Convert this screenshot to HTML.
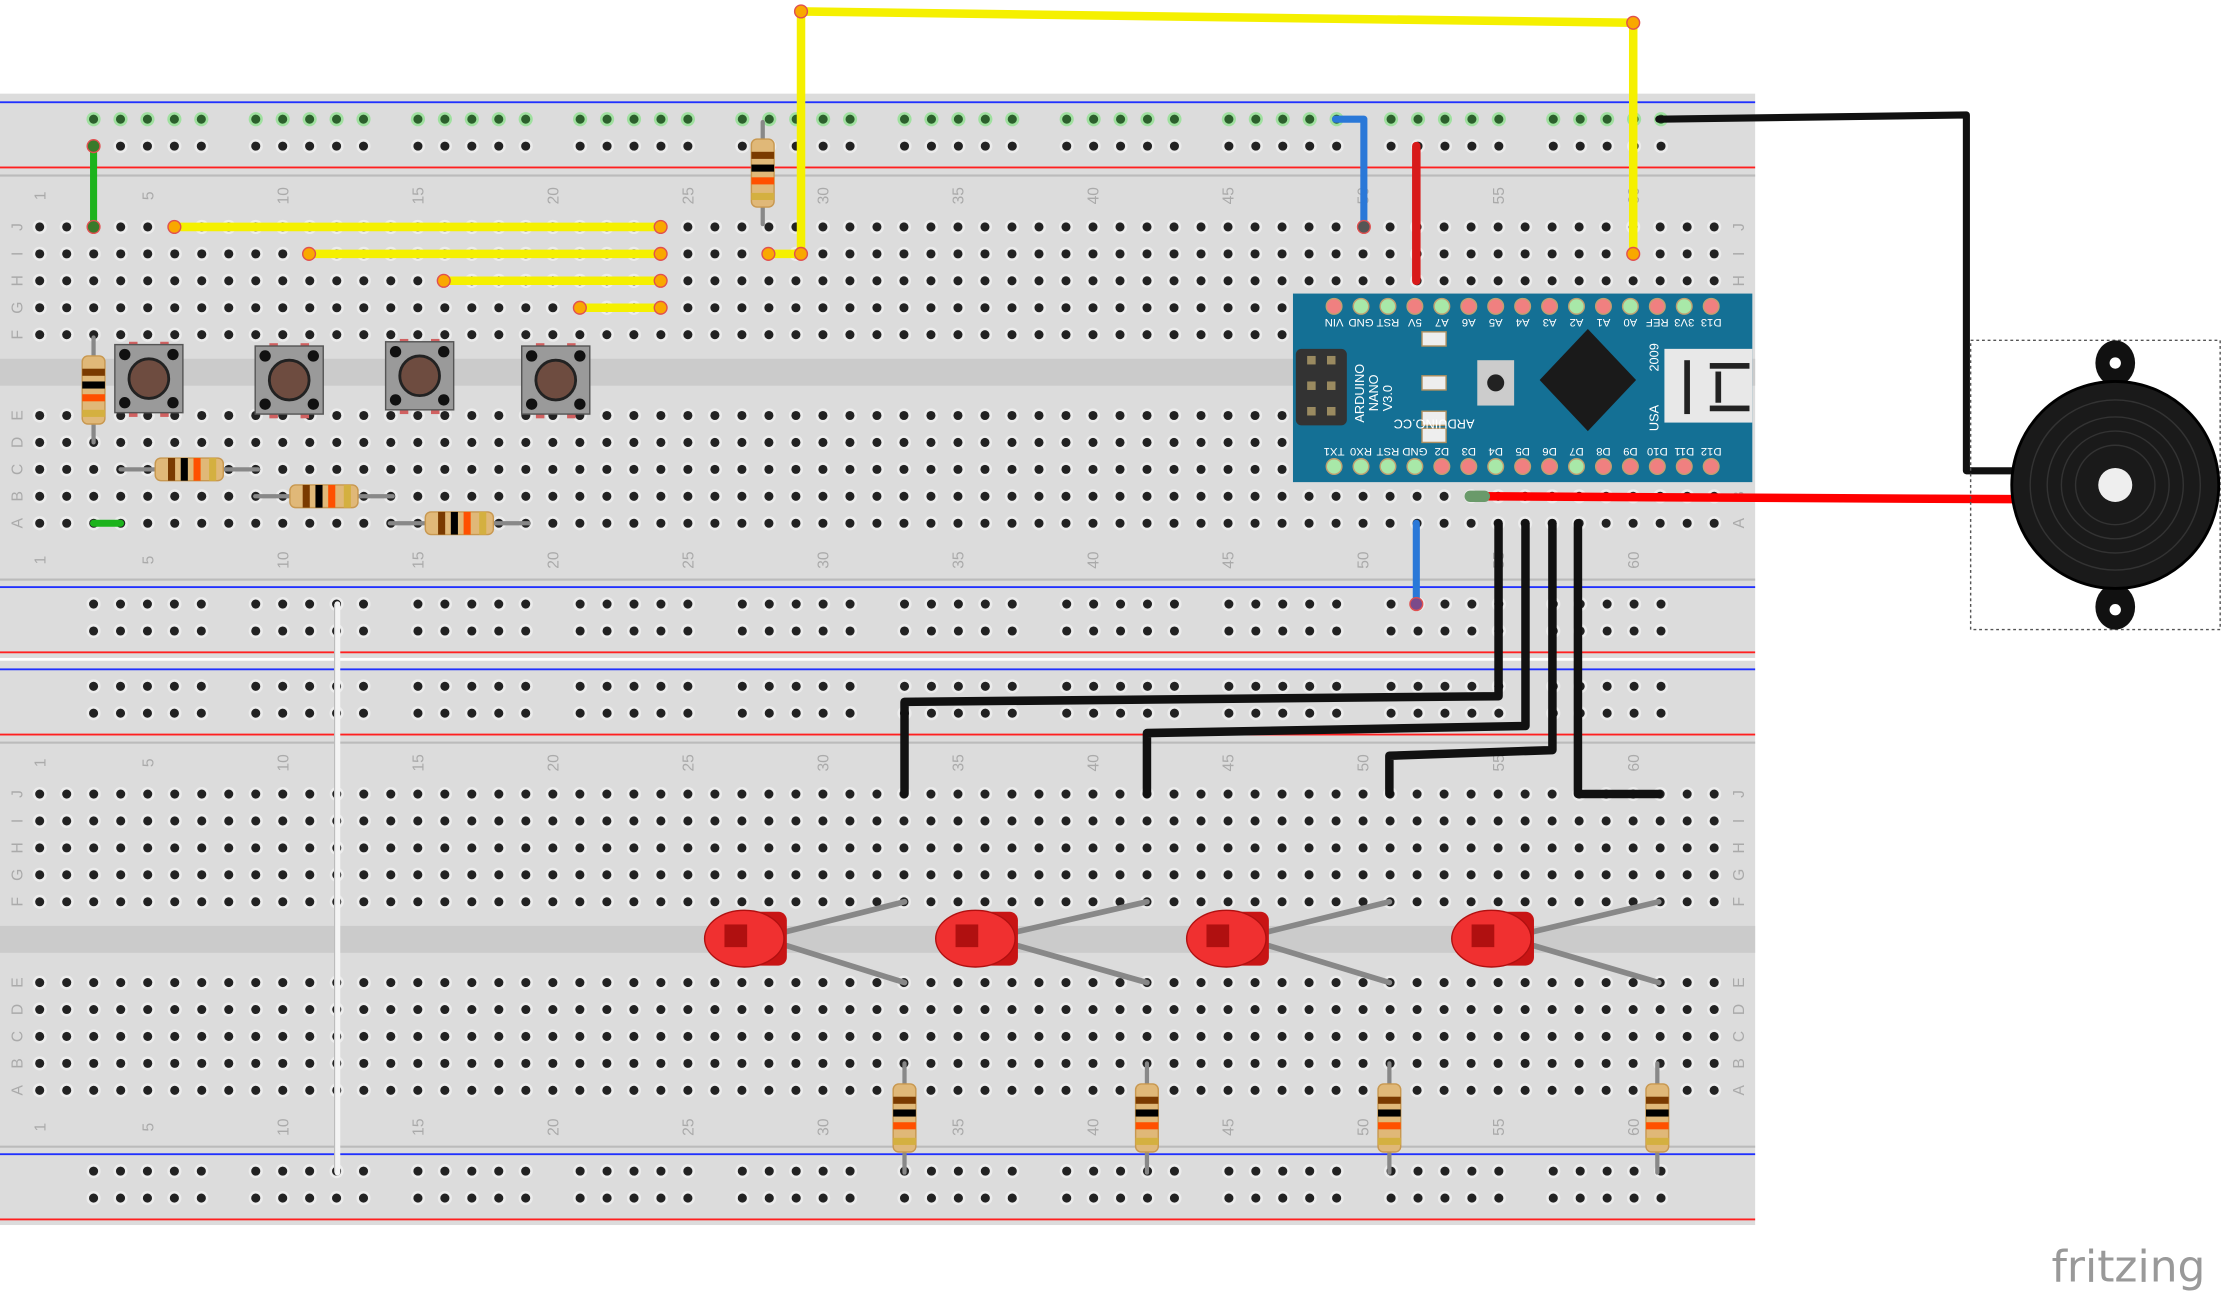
<!DOCTYPE html>
<html><head><meta charset="utf-8"><style>
html,body{margin:0;padding:0;background:#fff;}
svg{display:block;}
text{font-family:"Liberation Sans",sans-serif;}
</style></head><body>
<svg id="s" width="2223" height="1296" viewBox="0 0 1568 914" xmlns="http://www.w3.org/2000/svg">
<rect width="1568" height="914" fill="#fff"/>
<g id="boards"></g>
<g id="parts"></g>
<text x="1447" y="904" font-size="31" fill="#999" style="font-family:'DejaVu Sans',sans-serif">fritzing</text>
</svg>
<script>
(function(){
const NS="http://www.w3.org/2000/svg";
const B=document.getElementById('boards'),P=document.getElementById('parts');
function el(p,t,a){const e=document.createElementNS(NS,t);for(const k in a)e.setAttribute(k,a[k]);p.appendChild(e);return e;}
function hole(x,y,g){el(B,'circle',{cx:x,cy:y,r:5,fill:g?'#9fe09f':'#ececec'});el(B,'circle',{cx:x,cy:y,r:3.2,fill:g?'#2c5f2c':'#222'});}
const rowsT=[160,179,198,217,236],rowsB=[293,312,331,350,369],L='JIHGF',L2='EDCBA';
function lbl(x,y,s){const t=el(B,'text',{x:0,y:0,'font-size':11,fill:'#aaa',transform:`translate(${x+4},${y}) rotate(-90)`,'text-anchor':'middle'});t.textContent=s;}
function board(o){
 el(B,'rect',{x:0,y:66+o,width:1238,height:398,fill:'#dcdcdc'});
 el(B,'rect',{x:0,y:253+o,width:1238,height:19,fill:'#cbcbcb'});
 el(B,'rect',{x:0,y:123+o,width:1238,height:1.5,fill:'#bbb'});
 el(B,'rect',{x:0,y:408+o,width:1238,height:1.5,fill:'#bbb'});
 [[72,'#2030ff'],[118,'#ff2020'],[414,'#2030ff'],[460,'#ff2020']].forEach(([y,c])=>el(B,'rect',{x:0,y:y+o-0.6,width:1238,height:1.3,fill:c}));
 for(let g=0;g<10;g++)for(let i=0;i<5;i++){const x=66+g*114.4+i*19;
  hole(x,84+o,o==0);hole(x,103+o,false);hole(x,426+o,false);hole(x,445+o,false);}
 for(let c=0;c<63;c++){const x=28+c*19.05;
  rowsT.forEach(y=>hole(x,y+o));rowsB.forEach(y=>hole(x,y+o));
  if(c==0||(c+1)%5==0){lbl(x,138+o,c+1);lbl(x,395+o,c+1);}
 }
 rowsT.forEach((y,i)=>{lbl(12,y+o,L[i]);lbl(1226,y+o,L[i]);});
 rowsB.forEach((y,i)=>{lbl(12,y+o,L2[i]);lbl(1226,y+o,L2[i]);});
}
board(0);board(400);
function wire(pts,c,w){el(P,'polyline',{points:pts.map(p=>p.join(',')).join(' '),fill:'none',stroke:c,'stroke-width':w||6,'stroke-linejoin':'round','stroke-linecap':'round'});}
function end(x,y,c){el(P,'circle',{cx:x,cy:y,r:4.5,fill:c,stroke:'#e05050','stroke-width':1});}
wire([[66,103],[66,160]],'#1db31d',5);end(66,103,'#3a7a2a');end(66,160,'#3a7a2a');
wire([[66,369],[85,369]],'#1db31d',5);
[[123,160],[218,179],[313,198],[409,217]].forEach(([x,y])=>{wire([[x,y],[466,y]],'#f5f000',6);end(x,y,'#f9a800');end(466,y,'#f9a800');});
const yl=[[542,179],[565,179],[565,8],[1152,16],[1152,179]];
wire(yl,'#f5f000',6);yl.forEach(p=>end(p[0],p[1],'#f9a800'));
function res(x1,y1,x2,y2){wire([[x1,y1],[x2,y2]],'#888',3);const mx=(x1+x2)/2,my=(y1+y2)/2,a=Math.atan2(y2-y1,x2-x1)*180/Math.PI;
 const g=el(P,'g',{transform:`translate(${mx},${my}) rotate(${a})`});
 el(g,'rect',{x:-24,y:-8,width:48,height:16,rx:4,fill:'#e0b878',stroke:'#c89850'});
 [[-15,'#7a3a00'],[-6,'#000'],[3,'#ff5000'],[14,'#d4b040']].forEach(([bx,c])=>el(g,'rect',{x:bx,y:-8,width:5,height:16,fill:c}));}
res(538,86,538,158);res(66,238,66,312);res(85,331,182,331);res(180,350,277,350);res(275,369,373,369);
[638,809,980,1169].forEach(x=>res(x,750,x,827));
function btn(x,y){[[-11,-26],[11,-26],[-11,18],[11,18]].forEach(([dx,dy])=>el(P,'rect',{x:x+dx-3,y:y+dy,width:6,height:9,fill:'#d06060'}));
 el(P,'rect',{x:x-24,y:y-24,width:48,height:48,fill:'#9a9a9a',stroke:'#555'});
 [[-17,-17],[17,-17],[-17,17],[17,17]].forEach(([dx,dy])=>el(P,'circle',{cx:x+dx,cy:y+dy,r:4,fill:'#111'}));
 el(P,'circle',{cx:x,cy:y,r:14,fill:'#6e4c40',stroke:'#222','stroke-width':2});}
btn(105,267);btn(204,268);btn(296,265);btn(392,268);
el(P,'rect',{x:912,y:207,width:324,height:133,fill:'#147095'});
const topPins=['VIN','GND','RST','5V','A7','A6','A5','A4','A3','A2','A1','A0','REF','3V3','D13'],botPins=['TX1','RX0','RST','GND','D2','D3','D4','D5','D6','D7','D8','D9','D10','D11','D12'];
const tg=[0,1,1,0,1,0,0,0,0,1,0,1,0,1,0],bg=[1,1,1,1,0,0,1,0,0,1,0,0,0,0,0];
for(let i=0;i<15;i++){const x=941+i*19;
 el(P,'circle',{cx:x,cy:216,r:5.5,fill:tg[i]?'#a8e8a8':'#f08080',stroke:'#c0a070'});
 el(P,'circle',{cx:x,cy:329,r:5.5,fill:bg[i]?'#a8e8a8':'#f08080',stroke:'#c0a070'});
 let t=el(P,'text',{x:0,y:0,'font-size':8,fill:'#fff','text-anchor':'middle',transform:`translate(${x},225) rotate(180)`});t.textContent=topPins[i];
 t=el(P,'text',{x:0,y:0,'font-size':8,fill:'#fff','text-anchor':'middle',transform:`translate(${x},316) rotate(180)`});t.textContent=botPins[i];}
el(P,'rect',{x:914,y:246,width:36,height:54,rx:4,fill:'#333'});
for(let r=0;r<3;r++){el(P,'rect',{x:922,y:251+r*18,width:6,height:6,fill:'#9a8a60'});el(P,'rect',{x:936,y:251+r*18,width:6,height:6,fill:'#9a8a60'});}
el(P,'polygon',{points:'1120,232 1154,268 1120,304 1086,268',fill:'#1a1a1a'});
el(P,'rect',{x:1042,y:254,width:26,height:32,fill:'#ccc'});el(P,'circle',{cx:1055,cy:270,r:6,fill:'#222'});
[234,265,290,302].forEach(y=>el(P,'rect',{x:1003,y:y,width:17,height:10,fill:'#eee',stroke:'#b09060'}));
el(P,'rect',{x:1174,y:246,width:62,height:52,fill:'#e8e8e8'});
el(P,'rect',{x:1188,y:254,width:4,height:38,fill:'#222'});el(P,'rect',{x:1206,y:256,width:28,height:4,fill:'#222'});el(P,'rect',{x:1206,y:286,width:28,height:4,fill:'#222'});el(P,'rect',{x:1210,y:262,width:4,height:22,fill:'#222'});
function rt(s,x,y,r){const t=el(P,'text',{x:0,y:0,'font-size':9,fill:'#fff',transform:`translate(${x},${y}) rotate(${r})`});t.textContent=s;}
rt('ARDUINO',962,298,-90);rt('NANO',972,290,-90);rt('V3.0',982,290,-90);rt('ARDUINO.CC',1040,296,180);rt('2009',1170,262,-90);rt('USA',1170,304,-90);
wire([[942,84],[962,84],[962,160]],'#2a78d8',5);end(962,160,'#555');
wire([[999,103],[999,198]],'#d81a1a',6);
wire([[999,369],[999,426]],'#2a78d8',5);end(999,426,'#7a4a8a');
wire([[1170,84],[1387,81],[1387,332],[1420,332]],'#111',5);
wire([[1042,350],[1420,352]],'#ff0000',6);el(P,'rect',{x:1033,y:346,width:18,height:8,rx:4,fill:'#6a9a6a'});
wire([[1057,369],[1057,491],[638,495],[638,560]],'#111',6);
wire([[1076,369],[1076,512],[809,517],[809,560]],'#111',6);
wire([[1095,369],[1095,529],[980,533],[980,560]],'#111',6);
wire([[1113,369],[1113,560],[1170,560]],'#111',6);
wire([[238,426],[238,827]],'#f4f4f4',4);el(P,'line',{x1:236,y1:426,x2:236,y2:827,stroke:'#bbb','stroke-width':0.8});
[[525,638],[688,809],[865,980],[1052,1170]].forEach(([x,lx])=>{
 wire([[x+30,657],[lx,636]],'#888',4);wire([[x+30,667],[lx,693]],'#888',4);
 el(P,'rect',{x:x-4,y:643,width:34,height:38,rx:6,fill:'#c81414'});
 el(P,'ellipse',{cx:x,cy:662,rx:28,ry:20,fill:'#f03030',stroke:'#b01010'});
 el(P,'rect',{x:x-14,y:652,width:16,height:16,fill:'#b01010'});});
el(P,'rect',{x:1390,y:240,width:176,height:204,fill:'none',stroke:'#555','stroke-dasharray':'2,2'});
el(P,'ellipse',{cx:1492,cy:256,rx:14,ry:16,fill:'#111'});el(P,'ellipse',{cx:1492,cy:428,rx:14,ry:16,fill:'#111'});
el(P,'circle',{cx:1492,cy:256,r:4,fill:'#fff'});el(P,'circle',{cx:1492,cy:430,r:4,fill:'#fff'});
el(P,'circle',{cx:1492,cy:342,r:73,fill:'#1a1a1a',stroke:'#000','stroke-width':2});
[60,48,38,28].forEach(r=>el(P,'circle',{cx:1492,cy:342,r:r,fill:'none',stroke:'#333','stroke-width':1}));
el(P,'circle',{cx:1492,cy:342,r:12,fill:'#eee'});
})();
</script>
</body></html>
